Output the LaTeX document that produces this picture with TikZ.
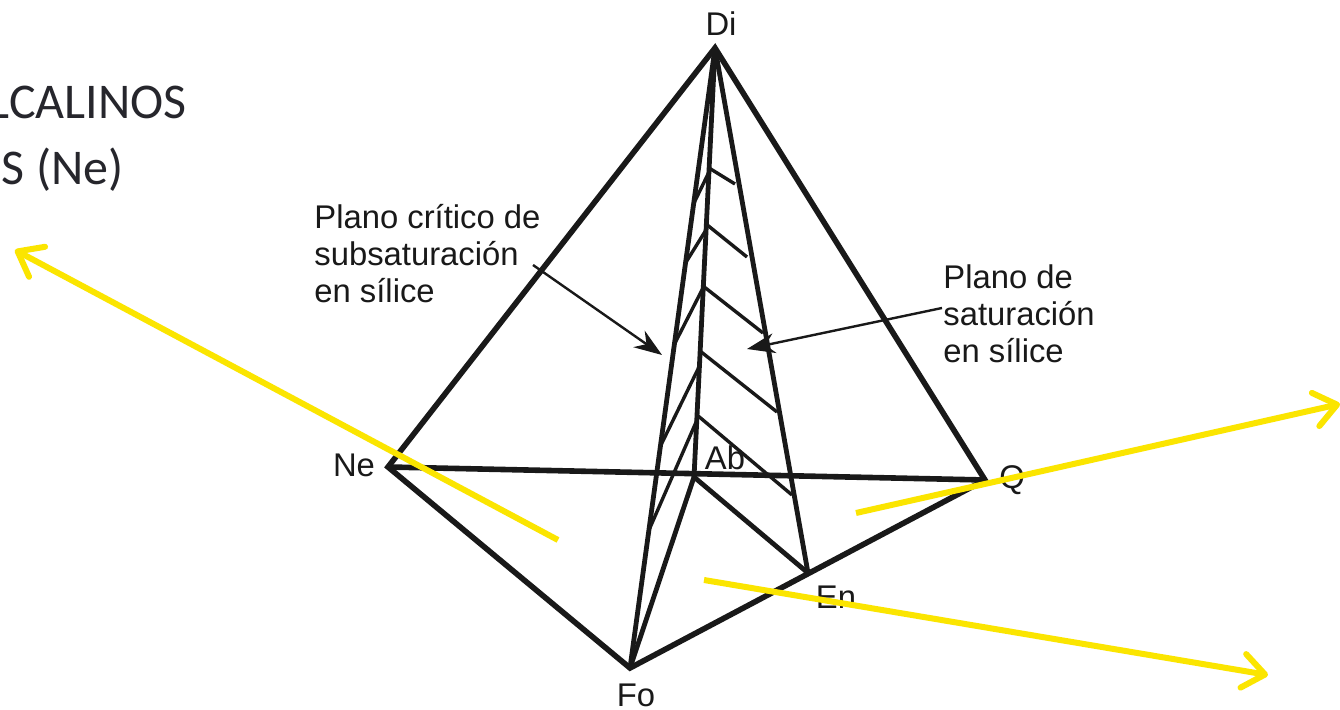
\documentclass[tikz,border=0pt]{standalone}
\usepackage{fontspec}
\setmainfont{Liberation Sans}
\newfontfamily\slidefont{Carlito}
\usetikzlibrary{arrows.meta}
\definecolor{ink}{HTML}{191919}
\definecolor{slideink}{HTML}{26262C}
\definecolor{mark}{HTML}{FBE500}
\tikzset{
  edgeouter/.style={draw=ink,line width=2.8pt,line join=miter},
  edgeinner/.style={draw=ink,line width=2.4pt},
  hatch/.style={draw=ink,line width=1.7pt},
  pointer/.style={draw=ink,line width=1.2pt,-{Stealth[length=14pt,width=10pt]}},
  yellowarrow/.style={draw=mark,line width=3pt,-{Straight Barb[length=11pt,width=17pt,line width=3pt,round]}},
  lab/.style={inner sep=0pt,font=\fontsize{16.4}{18.5}\selectfont,text=ink},
  slide/.style={inner sep=0pt,font=\slidefont\fontsize{25}{25}\selectfont,text=slideink}
}
\begin{document}
\begin{tikzpicture}[x=0.5pt,y=-0.5pt]
\useasboundingbox (0,0) rectangle (1340,710);
\fill[white] (0,0) rectangle (1340,710);
% vertices
\coordinate (Di) at (715,48);
\coordinate (Ne) at (388,467);
\coordinate (Q) at (985,480);
\coordinate (Fo) at (630,668);
\coordinate (En) at (808,573);
\coordinate (Ab) at (694,477);
% hatch ends, right plane
\coordinate (r1a) at (709,168); \coordinate (r1b) at (735,184);
\coordinate (r2a) at (706,224); \coordinate (r2b) at (747,257);
\coordinate (r3a) at (703,286); \coordinate (r3b) at (763,333);
\coordinate (r4a) at (700,351); \coordinate (r4b) at (777,412);
\coordinate (r5a) at (697,415); \coordinate (r5b) at (792,495);
% hatch ends, left plane
\coordinate (l1a) at (709,172); \coordinate (l1b) at (694,203);
\coordinate (l2a) at (706,230); \coordinate (l2b) at (685.5,263);
\coordinate (l3a) at (703,288); \coordinate (l3b) at (674,345);
\coordinate (l4a) at (699,367); \coordinate (l4b) at (660,447);
\coordinate (l5a) at (697,420); \coordinate (l5b) at (649,530);
% labels
\node[lab] (tDi) at (721,24) {Di};
\node[lab] (tNe) at (354,465) {Ne};
\node[lab] (tAb) at (725,458) {Ab};
\node[lab] (tQ) at (1012,480) {Q};
\node[lab] (tEn) at (836,597) {En};
\node[lab] (tFo) at (636,695) {Fo};
\node[lab,align=left,anchor=north west] (tCrit) at (314,204) {Plano crítico de\\subsaturación\\en sílice};
\node[lab,align=left,anchor=north west] (tSat) at (943,264) {Plano de\\saturación\\en sílice};
\node[slide,anchor=base east] (t1) at (187,119) {LCALINOS};
\node[slide,anchor=base east] (t2) at (124,185) {S (Ne)};
% tetrahedron
\draw[edgeouter] (Ne) -- (Di) -- (Q) -- (Fo) -- cycle;
\draw[edgeouter] (Ne) -- (Q);
\draw[edgeinner] (Di) -- (Fo);
\draw[edgeinner] (Di) -- (Ab);
\draw[edgeinner] (Di) -- (En);
\draw[edgeinner] (Ab) -- (Fo);
\draw[edgeinner] (Ab) -- (En);
% hatching
\foreach \n in {1,...,5} {
  \draw[hatch] (r\n a) -- (r\n b);
  \draw[hatch] (l\n a) -- (l\n b);
}
% pointers
\coordinate (p1s) at (533,265); \coordinate (p1e) at (662,355);
\coordinate (p2s) at (942,308); \coordinate (p2e) at (747,349);
\draw[pointer] (p1s) -- (p1e);
\draw[pointer] (p2s) -- (p2e);
% yellow arrows
\coordinate (y1s) at (558,540); \coordinate (y1e) at (15,250);
\coordinate (y2s) at (856,513); \coordinate (y2e) at (1340,404);
\coordinate (y3s) at (704,580); \coordinate (y3e) at (1268,675);
\draw[yellowarrow] (y1s) -- (y1e);
\draw[yellowarrow] (y2s) -- (y2e);
\draw[yellowarrow] (y3s) -- (y3e);
\end{tikzpicture}
\end{document}
